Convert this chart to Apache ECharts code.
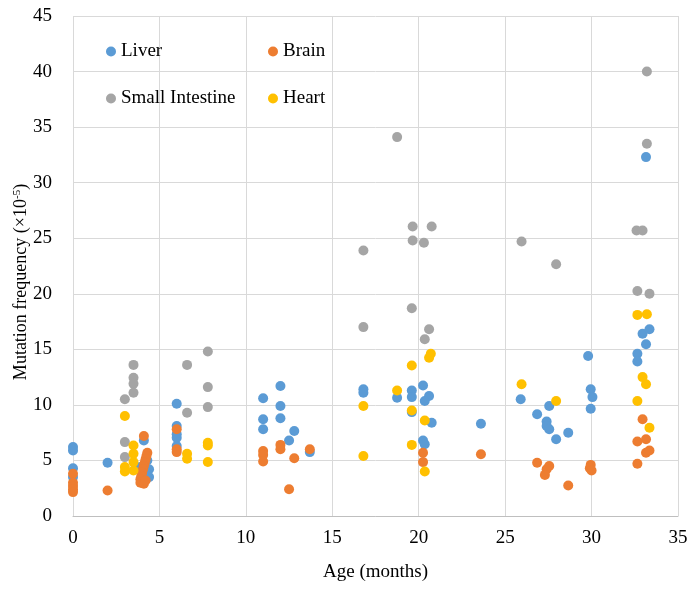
<!DOCTYPE html>
<html>
<head>
<meta charset="utf-8">
<script src="https://cdn.jsdelivr.net/npm/echarts@6/dist/echarts.min.js"></script>
<style>html,body{margin:0;padding:0;background:#fff}#c{width:697px;height:589px}</style>
</head>
<body>
<div id="c"></div>
<script>
var seriesNames = ['Liver', 'Brain', 'Small Intestine', 'Heart'];
var xTicks = [0, 5, 10, 15, 20, 25, 30, 35];
var yTicks = [0, 5, 10, 15, 20, 25, 30, 35, 40, 45];

var liverData = [
  [0,6.2],[0,5.9],[0,4.3],[0,3.5],
  [2.0,4.8],
  [4.1,6.8],[4.3,5.0],[3.9,4.4],[4.4,4.2],[4.4,3.5],
  [6.0,10.1],[6.0,8.1],[6.0,7.35],[6.0,7.05],[6.0,6.3],
  [11.0,10.6],[11.0,8.7],[11.0,7.8],
  [12.0,11.7],[12.0,9.9],[12.0,8.8],
  [12.5,6.8],[12.8,7.65],[13.7,5.75],
  [16.8,11.4],[16.8,11.1],
  [18.75,10.65],
  [19.6,11.3],[19.6,10.7],[19.6,9.35],
  [20.25,11.75],[20.6,10.8],[20.35,10.35],[20.75,8.4],[20.25,6.8],[20.35,6.45],
  [23.6,8.3],
  [25.9,10.5],[26.85,9.15],[27.55,9.9],[27.4,8.5],[27.4,8.1],[27.55,7.8],[27.95,6.9],[28.65,7.5],
  [29.8,14.4],[29.95,11.4],[30.05,10.7],[29.95,9.65],
  [32.65,14.6],[32.65,13.9],[32.95,16.4],[33.35,16.8],[33.15,15.45],[33.15,32.3]
];
var brainData = [
  [0,3.8],[0,3.0],[0,2.7],[0,2.4],[0,2.15],
  [2.0,2.3],
  [4.1,7.2],[4.3,5.7],[4.25,5.4],[4.2,5.1],[4.15,4.8],[4.1,4.5],[4.05,4.2],[4.0,3.9],[3.95,3.6],[3.9,3.3],[3.9,3.0],[4.1,2.9],[4.2,3.2],
  [6.0,7.8],[6.0,6.0],[6.0,5.75],
  [11.0,5.85],[11.0,5.5],[11.0,4.9],
  [12.0,6.4],[12.0,6.0],
  [12.5,2.4],[12.8,5.2],[13.7,6.0],
  [20.25,5.7],[20.25,4.85],
  [23.6,5.55],
  [26.85,4.8],[27.55,4.5],[27.4,4.2],[27.3,3.7],
  [28.65,2.75],
  [29.95,4.6],[29.9,4.3],[30.0,4.1],
  [32.95,8.7],[33.15,6.9],[32.65,6.7],[33.15,5.7],[33.35,5.9],[32.65,4.7]
];
var intestineData = [
  [3.0,10.5],[3.0,6.65],[3.0,5.3],
  [3.5,13.6],[3.5,12.45],[3.5,11.9],[3.5,11.1],
  [6.6,13.6],[6.6,9.3],
  [7.8,14.8],[7.8,11.6],[7.8,9.8],
  [16.8,23.9],[16.8,17.0],
  [18.75,34.1],
  [19.65,26.05],[19.65,24.8],[19.6,18.7],
  [20.3,24.6],[20.75,26.05],[20.6,16.8],[20.35,15.9],
  [25.95,24.7],[27.95,22.65],
  [32.6,25.7],[32.95,25.7],[32.65,20.25],[33.35,20.0],[33.2,33.5],[33.2,40.0]
];
var heartData = [
  [3.0,9.0],[3.0,4.4],[3.0,4.0],
  [3.5,6.35],[3.5,5.6],[3.5,4.85],[3.5,4.1],
  [6.6,5.6],[6.6,5.15],
  [7.8,6.6],[7.8,6.35],[7.8,4.86],
  [16.8,9.9],[16.8,5.4],
  [18.75,11.3],
  [19.6,13.55],[19.6,9.5],[19.6,6.4],
  [20.7,14.6],[20.6,14.25],[20.35,8.6],[20.35,4.0],
  [25.95,11.85],[27.95,10.35],
  [32.65,18.1],[33.2,18.15],[32.95,12.5],[33.15,11.85],[32.65,10.35],[33.35,7.95]
];

var colors = ['#5B9BD5', '#ED7D31', '#A5A5A5', '#FFC000'];
var FONT = 'Liberation Serif';
var chart = echarts.init(document.getElementById('c'), null, {renderer: 'canvas'});
var allData = [liverData, brainData, intestineData, heartData];
var legendText = {fontFamily: FONT, fontSize: 19, color: '#000'};
chart.setOption({
  animation: false,
  color: colors,
  grid: {left: 73, right: 19, top: 16, bottom: 73, containLabel: false, outerBoundsMode: 'none'},
  legend: [
    {data: [seriesNames[0], seriesNames[2]], orient: 'vertical', left: 101, top: 37, itemGap: 28,
     icon: 'circle', itemWidth: 10, itemHeight: 10, textStyle: legendText},
    {data: [seriesNames[1], seriesNames[3]], orient: 'vertical', left: 263, top: 37, itemGap: 28,
     icon: 'circle', itemWidth: 10, itemHeight: 10, textStyle: legendText}
  ],
  xAxis: {
    type: 'value', min: xTicks[0], max: xTicks[xTicks.length - 1], interval: 5,
    name: 'Age (months)', nameLocation: 'middle', nameGap: 47, nameMoveOverlap: false,
    nameTextStyle: {fontFamily: FONT, fontSize: 19, color: '#000'},
    axisLine: {show: true, lineStyle: {color: '#BFBFBF', width: 1}},
    axisTick: {show: false},
    axisLabel: {fontFamily: FONT, fontSize: 19, color: '#000', margin: 13},
    splitLine: {show: true, lineStyle: {color: '#D9D9D9', width: 1}}
  },
  yAxis: {
    type: 'value', min: yTicks[0], max: yTicks[yTicks.length - 1], interval: 5,
    name: 'Mutation frequency (×10{sup|-5})', nameLocation: 'middle', nameGap: 42, nameMoveOverlap: false,
    nameTextStyle: {fontFamily: FONT, fontSize: 18, color: '#000', padding: [0, 32, 0, 0],
      rich: {sup: {fontFamily: FONT, fontSize: 11, color: '#000', verticalAlign: 'top', padding: [0, 0, 8, 0]}}},
    axisLine: {show: false},
    axisTick: {show: false},
    axisLabel: {fontFamily: FONT, fontSize: 19, color: '#000', margin: 21},
    splitLine: {show: true, lineStyle: {color: '#D9D9D9', width: 1}}
  },
  series: seriesNames.map(function (n, i) {
    return {
      name: n, type: 'scatter', data: allData[i], symbol: 'circle', symbolSize: 10,
      itemStyle: {color: colors[i], opacity: 1}
    };
  })
});
</script>
</body>
</html>
